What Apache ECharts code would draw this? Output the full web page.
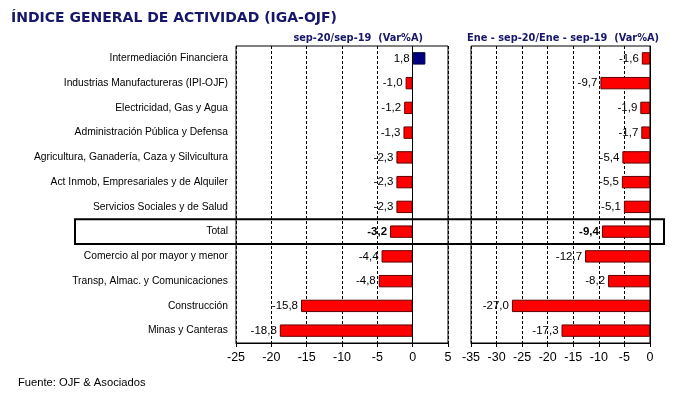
<!DOCTYPE html>
<html>
<head>
<meta charset="utf-8">
<script src="https://cdn.jsdelivr.net/npm/echarts@6/dist/echarts.min.js"></script>
<style>
html,body{margin:0;padding:0;background:#fff;}
#c{width:678px;height:397px;}
</style>
</head>
<body>
<div id="c"></div>
<script>
const categories = [
  'Intermediación Financiera',
  'Industrias Manufactureras (IPI-OJF)',
  'Electricidad, Gas y Agua',
  'Administración Pública y Defensa',
  'Agricultura, Ganadería, Caza y Silvicultura',
  'Act Inmob, Empresariales y de Alquiler',
  'Servicios Sociales y de Salud',
  'Total',
  'Comercio al por mayor y menor',
  'Transp, Almac. y Comunicaciones',
  'Construcción',
  'Minas y Canteras'
];
const valuesMonth = [1.8, -1.0, -1.2, -1.3, -2.3, -2.3, -2.3, -3.2, -4.4, -4.8, -15.8, -18.8];
const valuesYtd = [-1.6, -9.7, -1.9, -1.7, -5.4, -5.5, -5.1, -9.4, -12.7, -8.2, -27.0, -17.3];
const leftAxis = { min: -25, max: 5, interval: 5 };
const rightAxis = { min: -35, max: 0, interval: 5 };
const titleText = 'ÍNDICE GENERAL DE ACTIVIDAD (IGA-OJF)';
const subLeft = 'sep-20/sep-19  (Var%A)';
const subRight = 'Ene - sep-20/Ene - sep-19  (Var%A)';
const footer = 'Fuente: OJF & Asociados';
const totalName = 'Total';

const fmt = v => v.toFixed(1).replace('.', ',');
function mkData(vals) {
  return vals.map((v, i) => ({
    value: v,
    itemStyle: { color: v >= 0 ? '#000080' : '#FF0000', borderColor: v >= 0 ? '#000040' : '#600000', borderWidth: 1 },
    label: { fontWeight: categories[i] === totalName ? 'bold' : 'normal' }
  }));
}
const xAxisCommon = {
  type: 'value',
  axisLine: { show: true, lineStyle: { color: '#000', width: 1 } },
  axisTick: { show: true, length: 4, lineStyle: { color: '#000' } },
  axisLabel: { color: '#000', fontFamily: 'Liberation Sans, Arial', fontSize: 12.5, margin: 8 },
  splitLine: { show: true, lineStyle: { color: '#000', type: [3, 2], width: 1 } }
};
const labelCommon = {
  show: true, position: 'left', distance: 3, color: '#000',
  fontFamily: 'Liberation Sans, Arial', fontSize: 11.5,
  formatter: p => fmt(p.value)
};

const chart = echarts.init(document.getElementById('c'), null, { renderer: 'canvas' });
const option = {
  backgroundColor: '#fff',
  animation: false,
  title: [
    { text: titleText, left: 6, top: 6, textStyle: { fontFamily: 'DejaVu Sans', fontWeight: 'bold', fontSize: 14, color: '#16166a' } },
    { text: subLeft, right: 250, top: 28, textStyle: { fontFamily: 'DejaVu Sans', fontWeight: 'bold', fontSize: 9.8, color: '#16166a' } },
    { text: subRight, left: 462, top: 28, textStyle: { fontFamily: 'DejaVu Sans', fontWeight: 'bold', fontSize: 9.8, color: '#16166a' } },
    { text: footer, left: 13, top: 372, textStyle: { fontFamily: 'Liberation Sans, Arial', fontWeight: 'normal', fontSize: 11.2, color: '#000' } }
  ],
  grid: [
    { left: 236, right: 230, top: 46, bottom: 54, show: true, borderColor: '#000', borderWidth: 1, backgroundColor: 'transparent' },
    { left: 471, right: 28, top: 46, bottom: 54, show: true, borderColor: '#000', borderWidth: 1, backgroundColor: 'transparent' }
  ],
  xAxis: [
    Object.assign({}, xAxisCommon, { gridIndex: 0, min: leftAxis.min, max: leftAxis.max, interval: leftAxis.interval }),
    Object.assign({}, xAxisCommon, { gridIndex: 1, min: rightAxis.min, max: rightAxis.max, interval: rightAxis.interval })
  ],
  yAxis: [
    {
      type: 'category', gridIndex: 0, data: categories, inverse: true, position: 'left',
      axisLine: { show: false, onZero: false }, axisTick: { show: false },
      axisLabel: { color: '#000', fontFamily: 'Liberation Sans, Arial', fontSize: 10.3, margin: 8 },
      splitLine: { show: false }
    },
    {
      type: 'category', gridIndex: 1, data: categories, inverse: true, position: 'right',
      axisLine: { show: true, onZero: false, lineStyle: { color: '#000', width: 1 } }, axisTick: { show: false },
      axisLabel: { show: false }, splitLine: { show: false }
    }
  ],
  series: [
    {
      type: 'bar', xAxisIndex: 0, yAxisIndex: 0, data: mkData(valuesMonth), barWidth: '50%',
      label: labelCommon,
      markLine: { silent: true, symbol: 'none', label: { show: false }, lineStyle: { color: '#000', type: 'solid', width: 1 }, data: [{ xAxis: 0 }] },
      z: 3
    },
    {
      type: 'bar', xAxisIndex: 1, yAxisIndex: 1, data: mkData(valuesYtd), barWidth: '50%',
      label: labelCommon, z: 3
    }
  ]
};
chart.setOption(option);

const cy = chart.convertToPixel({ yAxisIndex: 0 }, totalName);
const cy2 = chart.convertToPixel({ yAxisIndex: 0 }, categories[0]);
const cy3 = chart.convertToPixel({ yAxisIndex: 0 }, categories[1]);
const band = Math.abs(cy3 - cy2);
chart.setOption({
  graphic: [{
    type: 'rect', z: 10, silent: true,
    shape: { x: 75, y: cy - band / 2, width: 589, height: band },
    style: { fill: 'none', stroke: '#000', lineWidth: 2 }
  }]
});
</script>
</body>
</html>
